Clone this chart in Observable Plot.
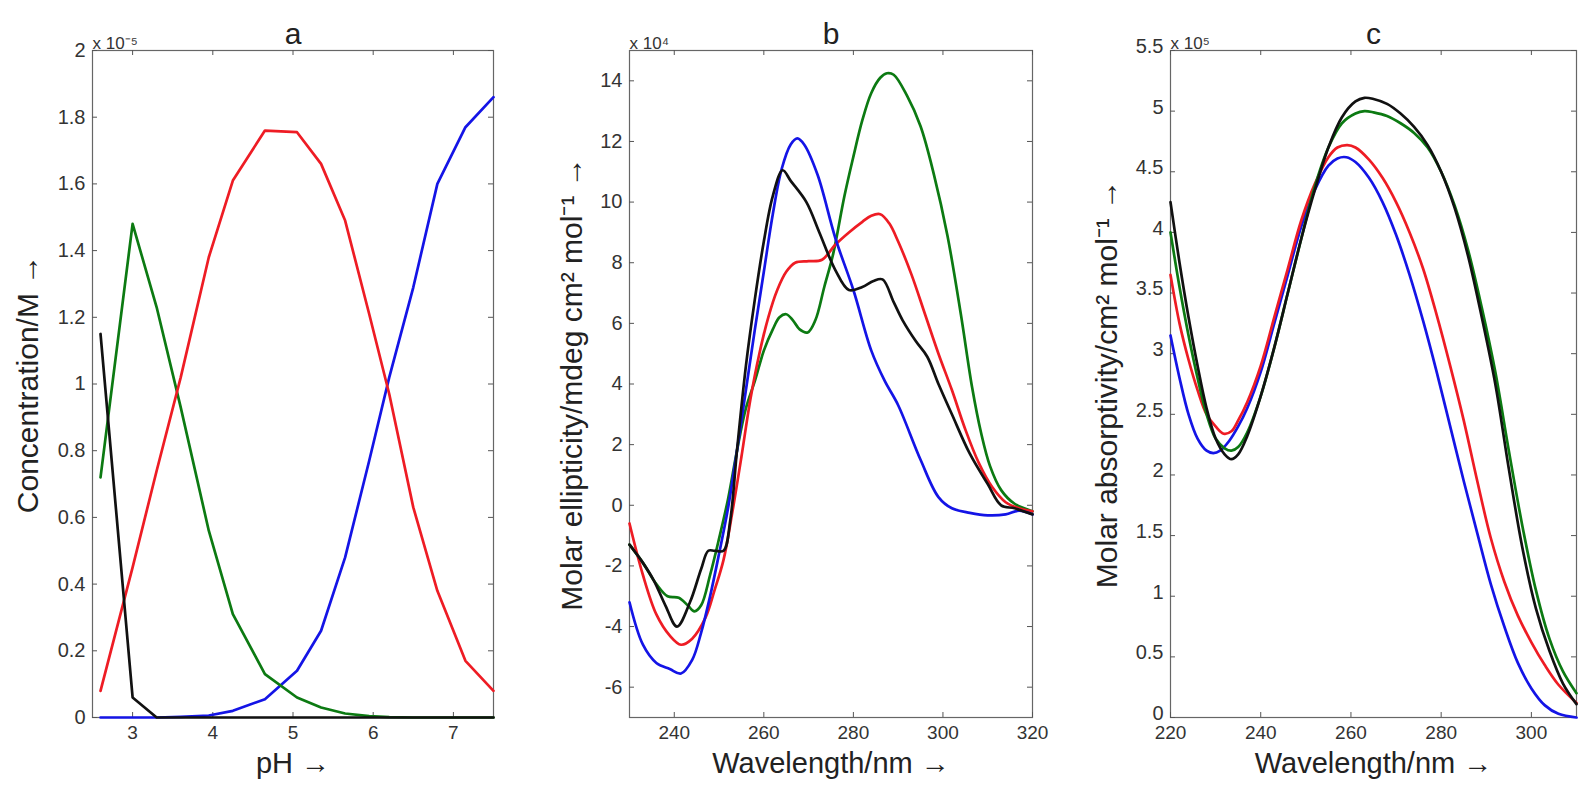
<!DOCTYPE html>
<html>
<head>
<meta charset="utf-8">
<script src="https://cdn.jsdelivr.net/npm/d3@7"></script>
<script src="https://cdn.jsdelivr.net/npm/@observablehq/plot@0.6"></script>
<style>
  html, body { margin: 0; padding: 0; background: #fff; }
  #wrap { position: relative; width: 1585px; height: 799px; overflow: hidden; }
</style>
</head>
<body>
<div id="wrap"></div>
<script>
// ---------- Panel a: concentration vs pH (units of 1e-5 M) ----------
const pHGrid    = [2.6, 3.0, 3.3, 3.6, 3.95, 4.25, 4.65, 5.05, 5.35, 5.65, 5.95, 6.2, 6.5, 6.8, 7.15, 7.5];
const concBlack = [1.15, 0.06, 0, 0, 0, 0, 0, 0, 0, 0, 0, 0, 0, 0, 0, 0];
const concGreen = [0.72, 1.48, 1.23, 0.93, 0.56, 0.31, 0.13, 0.06, 0.03, 0.012, 0.004, 0.001, 0, 0, 0, 0];
const concRed   = [0.08, 0.45, 0.74, 1.02, 1.38, 1.61, 1.76, 1.755, 1.66, 1.49, 1.21, 0.97, 0.63, 0.38, 0.17, 0.08];
const concBlue  = [0, 0, 0, 0.002, 0.006, 0.02, 0.055, 0.14, 0.26, 0.48, 0.77, 1.02, 1.29, 1.6, 1.77, 1.86];
const aXTicks = [3, 4, 5, 6, 7];
const aYTicks = [0, 0.2, 0.4, 0.6, 0.8, 1, 1.2, 1.4, 1.6, 1.8, 2];

// ---------- Panel b: CD spectra (units of 1e4) ----------
const bBlueX  = [230, 233, 236, 239, 241.5, 244, 246, 248, 250, 252, 254, 256, 258, 260, 262, 264, 266, 267.5, 269, 272, 276, 280, 284, 287, 290, 295, 299, 302, 306, 310, 314, 317, 320];
const bBlueY  = [-3.2, -4.6, -5.2, -5.4, -5.55, -5.1, -4.2, -3.0, -1.6, -0.1, 1.8, 3.8, 5.8, 7.7, 9.6, 11.1, 11.9, 12.1, 11.9, 10.9, 8.8, 7.1, 5.1, 4.1, 3.3, 1.5, 0.27, -0.1, -0.25, -0.33, -0.3, -0.18, -0.3];
const bBlackX = [230, 233, 235.5, 238, 240.6, 243.5, 246, 247.6, 249, 251, 252.5, 254, 256, 258, 260, 262, 264.2, 266, 269.5, 272.4, 276, 279, 282, 284.5, 286.5, 289, 291, 294, 296.5, 299, 302, 306, 310, 313, 316, 320];
const bBlackY = [-1.3, -1.9, -2.5, -3.3, -4.0, -3.2, -2.1, -1.5, -1.5, -1.5, -0.5, 1.8, 4.6, 6.8, 8.7, 10.2, 11.05, 10.7, 10.0, 9.0, 7.75, 7.1, 7.2, 7.4, 7.45, 6.7, 6.1, 5.4, 4.9, 4.0, 3.0, 1.7, 0.7, 0.0, -0.1, -0.3];
const bGreenX = [230, 233, 236, 238.5, 241, 243, 244.5, 246, 248, 250, 252, 254, 256, 258, 260, 262, 263.5, 265, 266.5, 268, 269.8, 271.5, 273.5, 275.5, 278, 280, 282, 284, 286, 287.5, 289, 292, 295, 298, 301, 304, 306.5, 308.5, 310.5, 313, 316, 320];
const bGreenY = [-1.3, -1.9, -2.6, -3.0, -3.05, -3.3, -3.5, -3.3, -2.3, -1.1, 0.2, 1.8, 3.2, 4.1, 5.1, 5.8, 6.2, 6.3, 6.1, 5.8, 5.7, 6.1, 7.2, 8.3, 10.2, 11.5, 12.7, 13.6, 14.1, 14.25, 14.2, 13.5, 12.5, 10.9, 8.9, 6.3, 3.9, 2.4, 1.3, 0.5, 0.05, -0.2];
const bRedX   = [230, 233, 236, 239, 241.5, 244, 247, 249, 251, 253, 255, 257, 259, 261, 263, 265, 267, 270, 273, 276, 279, 282, 284, 286, 288, 290, 293, 296, 299, 302, 305, 308, 311, 314, 317, 320];
const bRedY   = [-0.6, -2.3, -3.6, -4.3, -4.6, -4.4, -3.7, -2.8, -1.8, -0.2, 1.6, 3.5, 5.0, 6.2, 7.1, 7.7, 8.0, 8.05, 8.1, 8.6, 9.0, 9.35, 9.55, 9.6, 9.3, 8.7, 7.6, 6.3, 5.0, 3.8, 2.5, 1.4, 0.6, 0.1, -0.1, -0.2];
const bXTicks = [240, 260, 280, 300, 320];
const bYTicks = [-6, -4, -2, 0, 2, 4, 6, 8, 10, 12, 14];

// ---------- Panel c: absorption spectra (units of 1e5) ----------
const cBlackX = [220, 222, 224, 226, 228, 230, 232, 233.5, 235, 237, 240, 243, 246, 249, 252, 255, 258, 261, 263, 265, 268, 271, 274, 277, 280, 283, 286, 289, 292, 295, 298, 301, 304, 307, 310];
const cBlackY = [4.25, 3.75, 3.3, 2.9, 2.55, 2.3, 2.17, 2.13, 2.17, 2.32, 2.65, 3.05, 3.5, 3.95, 4.35, 4.7, 4.95, 5.08, 5.11, 5.1, 5.06, 4.98, 4.87, 4.72, 4.5, 4.2, 3.8, 3.3, 2.75, 2.05, 1.4, 0.9, 0.55, 0.28, 0.11];
const cGreenX = [220, 222, 224, 226, 228, 230, 232, 233.5, 235, 237, 240, 243, 246, 249, 252, 255, 258, 261, 263, 265, 268, 271, 274, 277, 280, 283, 286, 289, 292, 295, 298, 301, 304, 307, 310];
const cGreenY = [4.0, 3.55, 3.15, 2.8, 2.5, 2.3, 2.22, 2.2, 2.23, 2.35, 2.65, 3.05, 3.5, 3.95, 4.38, 4.7, 4.9, 4.98, 5.0, 4.99, 4.96, 4.9, 4.82, 4.7, 4.5, 4.22, 3.85, 3.38, 2.85, 2.2, 1.58, 1.05, 0.65, 0.38, 0.2];
const cRedX   = [220, 222, 224, 226, 228, 230, 231.8, 233.5, 235, 237, 240, 243, 246, 249, 252, 255, 257, 259.2, 261, 264, 267, 270, 273, 276, 279, 282, 285, 288, 291, 294, 297, 300, 303, 306, 310];
const cRedY   = [3.65, 3.25, 2.95, 2.7, 2.5, 2.4, 2.34, 2.36, 2.45, 2.6, 2.9, 3.3, 3.7, 4.1, 4.4, 4.62, 4.7, 4.72, 4.7, 4.6, 4.45, 4.25, 4.0, 3.7, 3.32, 2.9, 2.45, 1.95, 1.48, 1.12, 0.84, 0.62, 0.43, 0.27, 0.12];
const cBlueX  = [220, 222, 224, 226, 228, 229.5, 231, 233, 235, 237, 240, 243, 246, 249, 252, 255, 257, 259, 261, 264, 267, 270, 273, 276, 279, 282, 285, 288, 291, 294, 297, 300, 303, 306, 310];
const cBlueY  = [3.15, 2.8, 2.5, 2.3, 2.2, 2.18, 2.2, 2.28, 2.4, 2.55, 2.85, 3.25, 3.65, 4.05, 4.35, 4.55, 4.61, 4.62, 4.58, 4.45, 4.25, 3.98, 3.65, 3.27, 2.85, 2.4, 1.95, 1.52, 1.1, 0.75, 0.45, 0.24, 0.1, 0.03, 0.0];
const cXTicks = [220, 240, 260, 280, 300];
const cYTicks = [0, 0.5, 1, 1.5, 2, 2.5, 3, 3.5, 4, 4.5, 5, 5.5];

const COLORS = {black: "#111111", green: "#0c7a12", red: "#ee1c24", blue: "#1414e6"};
const FONT = "'Liberation Sans', Arial, Helvetica, sans-serif";

function zipSeries(xs, ys, name) { return xs.map((x, i) => ({x, y: ys[i], s: name})); }

function panel({left, width, mLeft, mRight, xDomain, yDomain, xTicks, yTicks, series, curve,
                title, expo, yLabel, xLabel, yLabelDx, yTickDy = 0}) {
  const height = 799, mTop = 50, mBottom = 82;
  const fh = height - mTop - mBottom;
  const fw = width - mLeft - mRight;
  const fmt = d => String(+(+d).toFixed(2));
  const tickColor = "#555";
  const marks = [
    Plot.frame({stroke: "#666", strokeWidth: 1.2}),
    Plot.tickX(xTicks, {x: d => d, insetTop: fh - 5, stroke: tickColor}),
    Plot.tickX(xTicks, {x: d => d, insetBottom: fh - 5, stroke: tickColor}),
    Plot.tickY(yTicks, {y: d => d, insetRight: fw - 5, stroke: tickColor}),
    Plot.tickY(yTicks, {y: d => d, insetLeft: fw - 5, stroke: tickColor}),
    Plot.axisX({ticks: xTicks, tickSize: 0, tickPadding: 8, tickFormat: fmt, label: null, fontSize: 19, fill: "#333"}),
    Plot.axisY({ticks: yTicks, tickSize: 0, tickPadding: 7, tickFormat: fmt, label: null, fontSize: 20, fill: "#333", dy: yTickDy}),
  ];
  for (const s of series) {
    marks.push(Plot.line(s.data, {x: "x", y: "y", stroke: s.color, strokeWidth: 2.7, curve}));
  }
  marks.push(
    Plot.text([title], {text: d => d, frameAnchor: "top", textAnchor: "middle", dy: -28, fontSize: 30, fill: "#222"}),
    Plot.text([expo], {text: d => d, frameAnchor: "top-left", textAnchor: "start", dy: -14, dx: 0, fontSize: 17, fill: "#333"}),
    Plot.text([xLabel], {text: d => d, frameAnchor: "bottom", textAnchor: "middle", dy: 55, fontSize: 29, fill: "#222"}),
    Plot.text([yLabel], {text: d => d, frameAnchor: "left", textAnchor: "middle", dx: yLabelDx, rotate: -90, fontSize: 30, fill: "#222"})
  );
  const svg = Plot.plot({
    width, height,
    marginLeft: mLeft, marginRight: mRight, marginTop: mTop, marginBottom: mBottom,
    x: {domain: xDomain},
    y: {domain: yDomain},
    style: {fontFamily: FONT, background: "transparent", overflow: "visible"},
    marks
  });
  svg.style.position = "absolute";
  svg.style.left = left + "px";
  svg.style.top = "0px";
  document.getElementById("wrap").appendChild(svg);
}

panel({
  left: 0, width: 530, mLeft: 92, mRight: 37,
  xDomain: [2.5, 7.5], yDomain: [0, 2], xTicks: aXTicks, yTicks: aYTicks,
  curve: "linear",
  series: [
    {data: zipSeries(pHGrid, concBlue, "blue"), color: COLORS.blue},
    {data: zipSeries(pHGrid, concGreen, "green"), color: COLORS.green},
    {data: zipSeries(pHGrid, concRed, "red"), color: COLORS.red},
    {data: zipSeries(pHGrid, concBlack, "black"), color: COLORS.black},
  ],
  title: "a", expo: "x 10⁻⁵", xLabel: "pH →", yLabel: "Concentration/M →", yLabelDx: -64
});

panel({
  left: 530, width: 530, mLeft: 99, mRight: 28,
  xDomain: [230, 320], yDomain: [-7, 15], xTicks: bXTicks, yTicks: bYTicks,
  curve: "catmull-rom",
  series: [
    {data: zipSeries(bGreenX, bGreenY, "green"), color: COLORS.green},
    {data: zipSeries(bRedX, bRedY, "red"), color: COLORS.red},
    {data: zipSeries(bBlueX, bBlueY, "blue"), color: COLORS.blue},
    {data: zipSeries(bBlackX, bBlackY, "black"), color: COLORS.black},
  ],
  title: "b", expo: "x 10⁴", xLabel: "Wavelength/nm →", yLabel: "Molar ellipticity/mdeg cm² mol⁻¹ →", yLabelDx: -57
});

panel({
  left: 1060, width: 525, mLeft: 110, mRight: 9,
  xDomain: [220, 310], yDomain: [0, 5.5], xTicks: cXTicks, yTicks: cYTicks,
  curve: "catmull-rom", yTickDy: -4,
  series: [
    {data: zipSeries(cBlueX, cBlueY, "blue"), color: COLORS.blue},
    {data: zipSeries(cRedX, cRedY, "red"), color: COLORS.red},
    {data: zipSeries(cGreenX, cGreenY, "green"), color: COLORS.green},
    {data: zipSeries(cBlackX, cBlackY, "black"), color: COLORS.black},
  ],
  title: "c", expo: "x 10⁵", xLabel: "Wavelength/nm →", yLabel: "Molar absorptivity/cm² mol⁻¹ →", yLabelDx: -63
});
</script>
</body>
</html>
